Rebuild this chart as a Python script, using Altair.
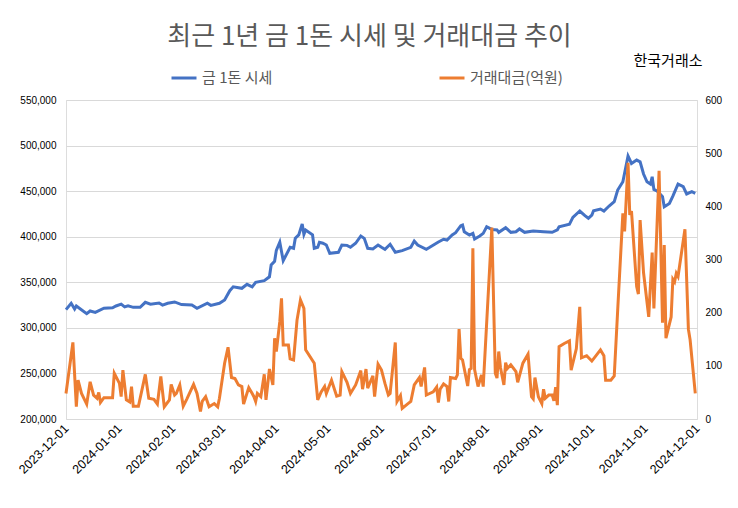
import altair as alt
import pandas as pd

# ---------------- data ----------------
price_dates = [
    "2023-12-01", "2023-12-04", "2023-12-06", "2023-12-07", "2023-12-13", "2023-12-15",
    "2023-12-18", "2023-12-23", "2023-12-28", "2023-12-30", "2024-01-02", "2024-01-04",
    "2024-01-06", "2024-01-09", "2024-01-13", "2024-01-16", "2024-01-19", "2024-01-24",
    "2024-01-26", "2024-01-29", "2024-02-02", "2024-02-06", "2024-02-12", "2024-02-15",
    "2024-02-21", "2024-02-23", "2024-02-28", "2024-03-02", "2024-03-05", "2024-03-07",
    "2024-03-12", "2024-03-15", "2024-03-18", "2024-03-20", "2024-03-25", "2024-03-28",
    "2024-03-29", "2024-03-31", "2024-04-01", "2024-04-03", "2024-04-05", "2024-04-09",
    "2024-04-11", "2024-04-12", "2024-04-14", "2024-04-16", "2024-04-17", "2024-04-18",
    "2024-04-22", "2024-04-23", "2024-04-25", "2024-04-26", "2024-04-28", "2024-04-30",
    "2024-05-02", "2024-05-07", "2024-05-09", "2024-05-12", "2024-05-14", "2024-05-17",
    "2024-05-20", "2024-05-22", "2024-05-24", "2024-05-27", "2024-05-30", "2024-06-01",
    "2024-06-03", "2024-06-06", "2024-06-09", "2024-06-13", "2024-06-18", "2024-06-20",
    "2024-06-22", "2024-06-27", "2024-06-29", "2024-07-04", "2024-07-07", "2024-07-09",
    "2024-07-12", "2024-07-14", "2024-07-17", "2024-07-18", "2024-07-19", "2024-07-22",
    "2024-07-24", "2024-07-25", "2024-07-28", "2024-07-30", "2024-08-01", "2024-08-04",
    "2024-08-07", "2024-08-08", "2024-08-12", "2024-08-15", "2024-08-18", "2024-08-20",
    "2024-08-23", "2024-08-28", "2024-09-03", "2024-09-08", "2024-09-11", "2024-09-12",
    "2024-09-18", "2024-09-20", "2024-09-24", "2024-09-27", "2024-09-29", "2024-10-01",
    "2024-10-02", "2024-10-06", "2024-10-08", "2024-10-11", "2024-10-14", "2024-10-16",
    "2024-10-19", "2024-10-22", "2024-10-24", "2024-10-27", "2024-10-29", "2024-10-31",
    "2024-11-02", "2024-11-04", "2024-11-05", "2024-11-06", "2024-11-08", "2024-11-11",
    "2024-11-12", "2024-11-15", "2024-11-17", "2024-11-20", "2024-11-23", "2024-11-25",
    "2024-11-28", "2024-11-30",
]
price_values = [
    320000, 327000, 320700, 324000, 315500, 318500,
    317000, 321500, 322000, 324000, 326000, 323000,
    324300, 322500, 322500, 328000, 326000, 327300,
    325000, 327000, 328400, 325500, 325000, 321500,
    327000, 324700, 327000, 330600, 340800, 345000,
    343400, 347800, 345000, 350000, 351800, 356000,
    369000, 373000, 385000, 394000, 373700, 388400,
    387300, 398300, 402000, 414000, 402600, 407400,
    402000, 387300, 388400, 393800, 392800, 390900,
    381800, 382900, 390900, 390500, 388400, 392800,
    400800, 398200, 387300, 386500, 390900, 388400,
    386200, 391700, 382900, 384700, 388400, 395300,
    390900, 386200, 388400, 394200, 397200, 396400,
    401900, 404400, 412100, 412800, 405500, 401900,
    403700, 397500, 400800, 403700, 411000, 408000,
    407400, 404800, 409900, 404800, 405500, 408500,
    404800, 406300, 405500, 404800, 407400, 411000,
    413600, 421300, 428200, 423100, 420200, 423800,
    428500, 430400, 428200, 433700, 438400, 451200,
    460300, 488500, 480400, 484100, 482200, 468800,
    460300, 457800, 465800, 451900, 450000, 443800,
    432800, 436500, 444500, 457800, 454900, 446900,
    449400, 447600,
]

amount_dates = [
    "2023-12-01", "2023-12-05", "2023-12-07", "2023-12-08", "2023-12-10", "2023-12-13",
    "2023-12-15", "2023-12-17", "2023-12-19", "2023-12-20", "2023-12-21", "2023-12-23",
    "2023-12-28", "2023-12-29", "2024-01-01", "2024-01-02", "2024-01-03", "2024-01-05",
    "2024-01-07", "2024-01-08", "2024-01-09", "2024-01-12", "2024-01-16", "2024-01-18",
    "2024-01-21", "2024-01-23", "2024-01-25", "2024-01-27", "2024-01-30", "2024-01-31",
    "2024-02-02", "2024-02-03", "2024-02-05", "2024-02-07", "2024-02-09", "2024-02-13",
    "2024-02-15", "2024-02-17", "2024-02-18", "2024-02-20", "2024-02-22", "2024-02-25",
    "2024-02-27", "2024-02-28", "2024-03-02", "2024-03-04", "2024-03-06", "2024-03-08",
    "2024-03-10", "2024-03-12", "2024-03-13", "2024-03-16", "2024-03-18", "2024-03-19",
    "2024-03-20", "2024-03-21", "2024-03-23", "2024-03-25", "2024-03-26", "2024-03-28",
    "2024-03-30", "2024-03-31", "2024-04-01", "2024-04-03", "2024-04-04", "2024-04-05",
    "2024-04-08", "2024-04-09", "2024-04-11", "2024-04-13", "2024-04-15", "2024-04-17",
    "2024-04-18", "2024-04-23", "2024-04-25", "2024-04-27", "2024-04-29", "2024-04-30",
    "2024-05-03", "2024-05-06", "2024-05-08", "2024-05-09", "2024-05-12", "2024-05-14",
    "2024-05-17", "2024-05-20", "2024-05-21", "2024-05-23", "2024-05-24", "2024-05-27",
    "2024-05-28", "2024-05-30", "2024-06-01", "2024-06-03", "2024-06-05", "2024-06-06",
    "2024-06-09", "2024-06-10", "2024-06-12", "2024-06-13", "2024-06-16", "2024-06-18",
    "2024-06-20", "2024-06-23", "2024-06-24", "2024-06-26", "2024-06-27", "2024-07-01",
    "2024-07-03", "2024-07-04", "2024-07-05", "2024-07-07", "2024-07-09", "2024-07-10",
    "2024-07-11", "2024-07-14", "2024-07-15", "2024-07-16", "2024-07-17", "2024-07-18",
    "2024-07-21", "2024-07-22", "2024-07-23", "2024-07-24", "2024-07-25", "2024-07-27",
    "2024-07-29", "2024-07-30", "2024-08-04", "2024-08-06", "2024-08-07", "2024-08-08",
    "2024-08-09", "2024-08-11", "2024-08-12", "2024-08-13", "2024-08-15", "2024-08-18",
    "2024-08-19", "2024-08-22", "2024-08-25", "2024-08-27", "2024-08-28", "2024-08-29",
    "2024-08-31", "2024-09-02", "2024-09-03", "2024-09-04", "2024-09-06", "2024-09-08",
    "2024-09-09", "2024-09-10", "2024-09-11", "2024-09-12", "2024-09-15", "2024-09-18",
    "2024-09-19", "2024-09-22", "2024-09-24", "2024-09-25", "2024-09-28", "2024-10-01",
    "2024-10-06", "2024-10-08", "2024-10-09", "2024-10-12", "2024-10-14", "2024-10-16",
    "2024-10-19", "2024-10-20", "2024-10-22", "2024-10-23", "2024-10-24", "2024-10-27",
    "2024-10-28", "2024-10-29", "2024-10-31", "2024-11-03", "2024-11-05", "2024-11-06",
    "2024-11-09", "2024-11-11", "2024-11-12", "2024-11-13", "2024-11-16", "2024-11-17",
    "2024-11-18", "2024-11-19", "2024-11-20", "2024-11-24", "2024-11-26", "2024-11-27",
    "2024-11-30",
]
amount_values = [
    48, 144, 23, 73, 48, 28,
    70, 45, 39, 50, 31, 40,
    40, 86, 67, 42, 92, 36,
    32, 61, 24, 24, 84, 39,
    37, 28, 80, 23, 36, 65,
    45, 48, 64, 24, 37, 65,
    48, 14, 33, 42, 23, 29,
    23, 39, 105, 135, 78, 76,
    64, 61, 28, 59, 48, 42,
    33, 48, 42, 84, 36, 94,
    64, 152, 127, 183, 227, 139,
    139, 113, 111, 186, 224, 208,
    130, 105, 36, 51, 61, 48,
    73, 43, 45, 89, 69, 48,
    64, 91, 56, 94, 58, 81,
    42, 103, 92, 67, 45, 48,
    144, 33, 44, 20, 28, 33,
    64, 78, 61, 97, 45, 51,
    60, 31, 56, 66, 61, 33,
    78, 76, 83, 169, 114, 111,
    62, 93, 95, 321, 93, 61,
    83, 61, 360, 86, 77, 127,
    97, 64, 106, 95, 102, 89,
    69, 105, 122, 42, 38, 78,
    42, 29, 56, 39, 45, 45,
    34, 60, 26, 136, 142, 147,
    92, 132, 211, 115, 119, 109,
    130, 119, 73, 73, 81, 205,
    387, 353, 482, 384, 391, 249,
    235, 374, 275, 192, 313, 208,
    467, 181, 327, 152, 192, 263,
    258, 274, 268, 357, 169, 149,
    48,
]

series_names = ["금 1돈 시세", "거래대금(억원)"]
series_colors = ["#4472C4", "#ED7D31"]
tick_labels = [
    "2023-12-01", "2024-01-01", "2024-02-01", "2024-03-01", "2024-04-01",
    "2024-05-01", "2024-06-01", "2024-07-01", "2024-08-01", "2024-09-01",
    "2024-10-01", "2024-11-01", "2024-12-01",
]
price_ticks = [200000, 250000, 300000, 350000, 400000, 450000, 500000, 550000]
amount_ticks = [0, 100, 200, 300, 400, 500, 600]
title_text = "최근 1년 금 1돈 시세 및 거래대금 추이"
source_text = "한국거래소"

# ---------------- build ----------------
FONT = "Noto Sans CJK KR"
GRAY = "#595959"

price_df = pd.DataFrame({"date": price_dates, "value": price_values, "series": series_names[0]})
amount_df = pd.DataFrame({"date": amount_dates, "value": amount_values, "series": series_names[1]})


def dt(s):
    y, m, d = (int(p) for p in s.split("-"))
    return alt.DateTime(year=y, month=m, date=d, utc=True)


month_ticks = [dt(s) for s in tick_labels]

x_enc = alt.X(
    "date:T",
    scale=alt.Scale(type="utc", domain=[month_ticks[0], month_ticks[-1]]),
    axis=alt.Axis(
        values=month_ticks,
        labelExpr="utcFormat(datum.value, '%Y-%m-%d')",
        labelAngle=315,
        labelAlign="right",
        labelBaseline="middle",
        labelPadding=7,
        labelFontSize=12.5,
        ticks=False,
        domain=False,
        grid=False,
        labelOverlap=False,
    ),
    title=None,
)

color_enc = alt.Color(
    "series:N",
    scale=alt.Scale(domain=series_names, range=series_colors),
    legend=alt.Legend(
        orient="none",
        legendX=104,
        legendY=-36,
        direction="horizontal",
        title=None,
        symbolType="stroke",
        symbolSize=625,
        symbolStrokeWidth=3,
        labelFontSize=15,
        labelFont=FONT,
        labelColor=GRAY,
        labelOffset=4,
        columnPadding=160,
    ),
)

price_line = alt.Chart(price_df).mark_line(strokeWidth=3).encode(
    x=x_enc,
    y=alt.Y(
        "value:Q",
        scale=alt.Scale(domain=[price_ticks[0], price_ticks[-1]], nice=False, zero=False),
        axis=alt.Axis(
            orient="left",
            values=price_ticks,
            labelExpr="format(datum.value, ',')",
            grid=True,
            gridColor="#d9d9d9",
            domain=False,
            ticks=False,
            labelPadding=10,
        ),
        title=None,
    ),
    color=color_enc,
)

amount_line = alt.Chart(amount_df).mark_line(strokeWidth=3).encode(
    x=x_enc,
    y=alt.Y(
        "value:Q",
        scale=alt.Scale(domain=[amount_ticks[0], amount_ticks[-1]], nice=False),
        axis=alt.Axis(
            orient="right",
            values=amount_ticks,
            labelExpr="format(datum.value, ',')",
            grid=False,
            domain=False,
            ticks=False,
            labelPadding=8,
        ),
        title=None,
    ),
    color=color_enc,
)

source = alt.Chart(pd.DataFrame({"t": [source_text]})).mark_text(
    font=FONT, fontSize=15, color="#000000", align="center", baseline="middle"
).encode(text="t:N", x=alt.value(602), y=alt.value(-39))

chart = (
    alt.layer(price_line, amount_line, source)
    .resolve_scale(y="independent")
    .properties(
        width=631,
        height=319,
        title=alt.TitleParams(
            title_text,
            font=FONT,
            fontSize=26,
            fontWeight="normal",
            color=GRAY,
            anchor="middle",
            offset=4,
            dx=-12,
        ),
        autosize=alt.AutoSizeParams(type="none"),
        padding={"left": 58, "top": 92, "right": 33, "bottom": 81},
    )
    .configure_view(stroke=None)
    .configure_axis(labelFont=FONT, labelFontSize=12, labelColor=GRAY)
    .configure(background="white")
)

chart.save("out.html", embed_options={"renderer": "svg", "actions": False})
